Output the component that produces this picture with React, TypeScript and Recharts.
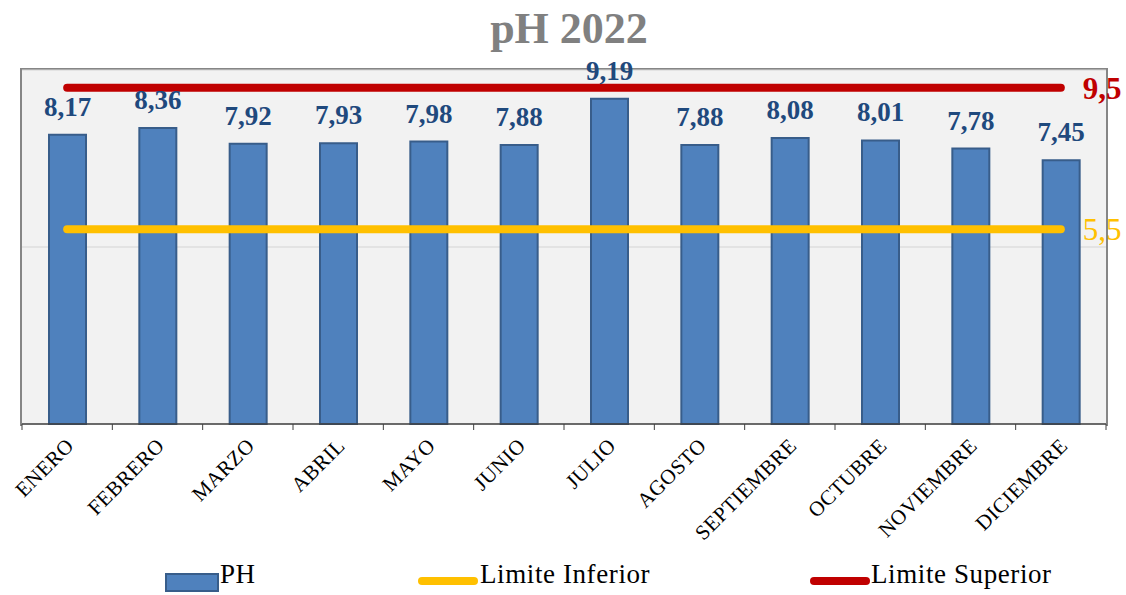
import { ComposedChart, Bar, Line, XAxis, YAxis, CartesianGrid, LabelList } from "recharts";

const FONT = "'Palatino Linotype', 'Book Antiqua', Palatino, 'Liberation Serif', serif";

const months = [
  "ENERO",
  "FEBRERO",
  "MARZO",
  "ABRIL",
  "MAYO",
  "JUNIO",
  "JULIO",
  "AGOSTO",
  "SEPTIEMBRE",
  "OCTUBRE",
  "NOVIEMBRE",
  "DICIEMBRE",
];
const ph = [8.17, 8.36, 7.92, 7.93, 7.98, 7.88, 9.19, 7.88, 8.08, 8.01, 7.78, 7.45];
const limiteInferior = [5.5, 5.5, 5.5, 5.5, 5.5, 5.5, 5.5, 5.5, 5.5, 5.5, 5.5, 5.5];
const limiteSuperior = [9.5, 9.5, 9.5, 9.5, 9.5, 9.5, 9.5, 9.5, 9.5, 9.5, 9.5, 9.5];
const yTicks = [0, 5, 10];

const data = months.map((m, i) => ({
  mes: m,
  ph: ph[i],
  inf: limiteInferior[i],
  sup: limiteSuperior[i],
}));

const comma = (v: number, digits: number) => v.toFixed(digits).replace(".", ",");

function MonthTick(props: any) {
  const { x, y, payload, index } = props;
  const half = payload?.offset ?? 45;
  const last = index === months.length - 1;
  const ax = x + 8;
  const ay = y + 23;
  return (
    <g>
      <line x1={x - half} y1={y} x2={x - half} y2={y + 6} stroke="#404040" />
      {last && <line x1={x + half} y1={y} x2={x + half} y2={y + 6} stroke="#404040" />}
      <text
        x={ax}
        y={ay}
        transform={`rotate(-45, ${ax}, ${ay})`}
        textAnchor="end"
        fontSize={21}
        letterSpacing={0.5}
        fontFamily={FONT}
        fill="#000"
      >
        {payload.value}
      </text>
    </g>
  );
}

// value tag drawn to the right of the last point of a limit line
function limitTag(color: string, weight: number) {
  return (props: any) => {
    const { x, y, index, value } = props;
    if (index !== months.length - 1) return null;
    return (
      <text
        x={x + 22}
        y={y}
        dy="0.36em"
        fill={color}
        fontSize={31}
        fontWeight={weight}
        fontFamily={FONT}
      >
        {comma(Number(value), 1)}
      </text>
    );
  };
}

function LegendRow() {
  const text = {
    position: "absolute" as const,
    top: 559,
    fontSize: 27,
    letterSpacing: 0.6,
    fontFamily: FONT,
    color: "#000",
  };
  return (
    <>
      <div
        style={{
          position: "absolute",
          left: 165,
          top: 573,
          width: 50,
          height: 15,
          background: "#4F81BD",
          border: "2px solid #385D8A",
        }}
      />
      <span style={{ ...text, left: 220 }}>PH</span>
      <div
        style={{ position: "absolute", left: 418, top: 577, width: 60, height: 8, borderRadius: 4, background: "#FFC000" }}
      />
      <span style={{ ...text, left: 480 }}>Limite Inferior</span>
      <div
        style={{ position: "absolute", left: 810, top: 577, width: 60, height: 8, borderRadius: 4, background: "#C00000" }}
      />
      <span style={{ ...text, left: 871 }}>Limite Superior</span>
    </>
  );
}

export default function App() {
  return (
    <div style={{ position: "absolute", left: 0, top: 0, width: 1126, height: 595, background: "#fff" }}>
      {/* plot frame, kept behind the svg so the value labels sit on top of it */}
      <div
        style={{
          position: "absolute",
          left: 20,
          top: 68,
          width: 1084,
          height: 356,
          borderLeft: "2px solid #868686",
          borderTop: "2px solid #868686",
          borderRight: "2px solid #868686",
        }}
      />
      <div
        style={{
          position: "absolute",
          left: 0,
          top: 3,
          width: 1138,
          textAlign: "center",
          fontFamily: FONT,
          fontWeight: 700,
          fontSize: 44,
          color: "#808080",
        }}
      >
        pH 2022
      </div>
      <ComposedChart
        width={1126}
        height={595}
        data={data}
        margin={{ top: 70, right: 20, bottom: 0, left: 22 }}
      >
        <CartesianGrid vertical={false} fill="#F2F2F2" stroke="#D4D4D4" />
        <YAxis hide domain={[0, 10]} ticks={yTicks} />
        <XAxis
          dataKey="mes"
          height={171}
          interval={0}
          tickSize={0}
          tickMargin={0}
          tickLine={false}
          axisLine={{ stroke: "#404040", strokeWidth: 1.5 }}
          tick={<MonthTick />}
        />
        <Bar dataKey="ph" name="PH" barSize={37} fill="#4F81BD" stroke="#385D8A" strokeWidth={2} isAnimationActive={false}>
          <LabelList
            dataKey="ph"
            position="top"
            offset={19}
            formatter={(v: any) => comma(Number(v), 2)}
            fill="#1F497D"
            fontSize={27}
            fontWeight={700}
            fontFamily={FONT}
          />
        </Bar>
        <Line dataKey="inf" name="Limite Inferior" stroke="#FFC000" strokeWidth={8} strokeLinecap="round" dot={false} activeDot={false} isAnimationActive={false}>
          <LabelList dataKey="inf" content={limitTag("#FFC000", 400)} />
        </Line>
        <Line dataKey="sup" name="Limite Superior" stroke="#C00000" strokeWidth={8} strokeLinecap="round" dot={false} activeDot={false} isAnimationActive={false}>
          <LabelList dataKey="sup" content={limitTag("#C00000", 700)} />
        </Line>
      </ComposedChart>
      <LegendRow />
    </div>
  );
}
